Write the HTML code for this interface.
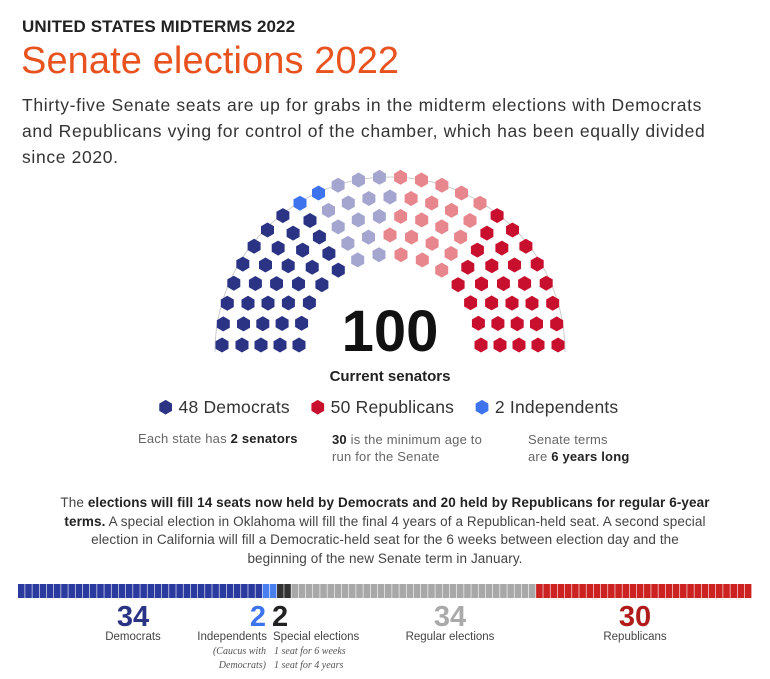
<!DOCTYPE html>
<html><head><meta charset="utf-8">
<style>
body{margin:0;width:770px;height:679px;background:#fff;font-family:"Liberation Sans",sans-serif;color:#222;position:relative;overflow:hidden}
.a{position:absolute;margin:0;white-space:nowrap}
</style></head><body>
<div class="a" style="left:22px;top:17px;font-size:17px;font-weight:bold;letter-spacing:0.1px">UNITED STATES MIDTERMS 2022</div>
<div class="a" style="left:21px;top:40px;font-size:38px;color:#e8521e;letter-spacing:0.1px">Senate elections 2022</div>
<div class="a" style="left:22px;top:92px;font-size:17.5px;line-height:26px;color:#333;letter-spacing:0.65px">Thirty-five Senate seats are up for grabs in the midterm elections with Democrats<br>and Republicans vying for control of the chamber, which has been equally divided<br>since 2020.</div>
<svg class="a" style="left:0;top:0" width="770" height="400" id="hemi">
<path d="M215 352 A175 175 0 0 1 565 352" fill="none" stroke="#ccc" stroke-width="1"/>
</svg>
<div class="a" style="left:290px;top:298px;width:200px;text-align:center;font-size:58px;font-weight:bold;color:#111">100</div>
<div class="a" style="left:290px;top:368px;width:200px;text-align:center;font-size:15px;font-weight:bold">Current senators</div>
<div class="a" style="left:158px;top:397px;font-size:17.5px;color:#333;letter-spacing:0.2px">
<span><span style="color:#2b3384">⬢</span> 48 Democrats</span>&nbsp;&nbsp;&nbsp;
<span><span style="color:#c8102e">⬢</span> 50 Republicans</span>&nbsp;&nbsp;&nbsp;
<span><span style="color:#3d74ee">⬢</span> 2 Independents</span></div>
<div class="a" style="left:138px;top:431px;font-size:13px;color:#666;letter-spacing:0.2px">Each state has <b style="color:#222">2 senators</b></div>
<div class="a" style="left:332px;top:431px;font-size:13px;color:#666;line-height:17px;letter-spacing:0.2px"><b style="color:#222">30</b> is the minimum age to<br>run for the Senate</div>
<div class="a" style="left:528px;top:431px;font-size:13px;color:#666;line-height:17px;letter-spacing:0.2px">Senate terms<br>are <b style="color:#222">6 years long</b></div>
<div class="a" style="left:0;top:494px;width:770px;text-align:center;font-size:13.5px;line-height:18.5px;color:#444;letter-spacing:0.1px">The <b style="color:#222">elections will fill 14 seats now held by Democrats and 20 held by Republicans for regular 6-year</b><br><b style="color:#222">terms.</b> A special election in Oklahoma will fill the final 4 years of a Republican-held seat. A second special<br>election in California will fill a Democratic-held seat for the 6 weeks between election day and the<br>beginning of the new Senate term in January.</div>
<svg class="a" style="left:0;top:584px" width="770" height="16" id="bar"></svg>
<div class="a" style="left:88px;top:601px;width:90px;text-align:center;font-size:29px;font-weight:bold;color:#2b3384">34</div>
<div class="a" style="left:88px;top:631px;width:90px;text-align:center;font-size:11.5px;color:#444">Democrats</div>
<div class="a" style="left:230px;top:601px;width:36px;text-align:right;font-size:29px;font-weight:bold;color:#3d74ee">2</div>
<div class="a" style="left:150px;top:631px;width:117px;text-align:right;font-size:11.5px;color:#444">Independents</div>
<div class="a" style="left:150px;top:645px;width:116px;text-align:right;font-size:10px;font-style:italic;font-family:'Liberation Serif',serif;color:#555;line-height:14px">(Caucus with<br>Democrats)</div>
<div class="a" style="left:272px;top:601px;font-size:29px;font-weight:bold;color:#222">2</div>
<div class="a" style="left:273px;top:631px;font-size:11.5px;color:#444">Special elections</div>
<div class="a" style="left:274px;top:645px;font-size:10px;font-style:italic;font-family:'Liberation Serif',serif;color:#555;line-height:14px">1 seat for 6 weeks<br>1 seat for 4 years</div>
<div class="a" style="left:390px;top:601px;width:120px;text-align:center;font-size:29px;font-weight:bold;color:#aaa">34</div>
<div class="a" style="left:380px;top:631px;width:140px;text-align:center;font-size:11.5px;color:#444">Regular elections</div>
<div class="a" style="left:590px;top:601px;width:90px;text-align:center;font-size:29px;font-weight:bold;color:#b01c1c">30</div>
<div class="a" style="left:590px;top:631px;width:90px;text-align:center;font-size:11.5px;color:#444">Republicans</div>
<script>
const groups=["Democrats","Independents","Democrats up","Republicans up","Republicans"];
const seatCounts=[34,2,14,20,30];
const seatColors=["#2b3384","#3d74ee","#a4a6d0","#e8868e","#c8102e"];
const barGroups=["Democrats","Independents","Special","Regular","Republicans"];
const barCounts=[34,2,2,34,30];
const barColors=["#2b3a9e","#4a7ff0","#333","#a8a8a8","#cc2222"];
const NS="http://www.w3.org/2000/svg";
const svg=document.getElementById('hemi');
const cx=390,cy=345,radii=[168,148,129,110,91],rowN=[26,23,20,17,14];
let seats=[];
radii.forEach((r,i)=>{const n=rowN[i];for(let k=0;k<n;k++){const a=Math.PI-(k/(n-1))*Math.PI;seats.push({a,x:cx+r*Math.cos(a),y:cy-r*Math.sin(a)});}});
seats.sort((p,q)=>q.a-p.a);
let idx=0;
seatCounts.forEach((c,g)=>{for(let j=0;j<c&&idx<seats.length;j++,idx++){const s=seats[idx];const p=[];for(let t=0;t<6;t++){const an=Math.PI/6+t*Math.PI/3;p.push((s.x+7.5*Math.cos(an)).toFixed(1)+','+(s.y+7.5*Math.sin(an)).toFixed(1));}
const h=document.createElementNS(NS,'polygon');h.setAttribute('points',p.join(' '));h.setAttribute('fill',seatColors[g]);


svg.appendChild(h);}});
const bar=document.getElementById('bar');
const total=barCounts.reduce((a,b)=>a+b,0),x0=18,w=734,cw=w/total;
let c=0;
barCounts.forEach((n,g)=>{for(let j=0;j<n;j++,c++){const r=document.createElementNS(NS,'rect');r.setAttribute('x',x0+c*cw);r.setAttribute('y',0);r.setAttribute('width',cw-0.6);r.setAttribute('height',14);r.setAttribute('fill',barColors[g]);


bar.appendChild(r);}});
</script>
</body></html>
